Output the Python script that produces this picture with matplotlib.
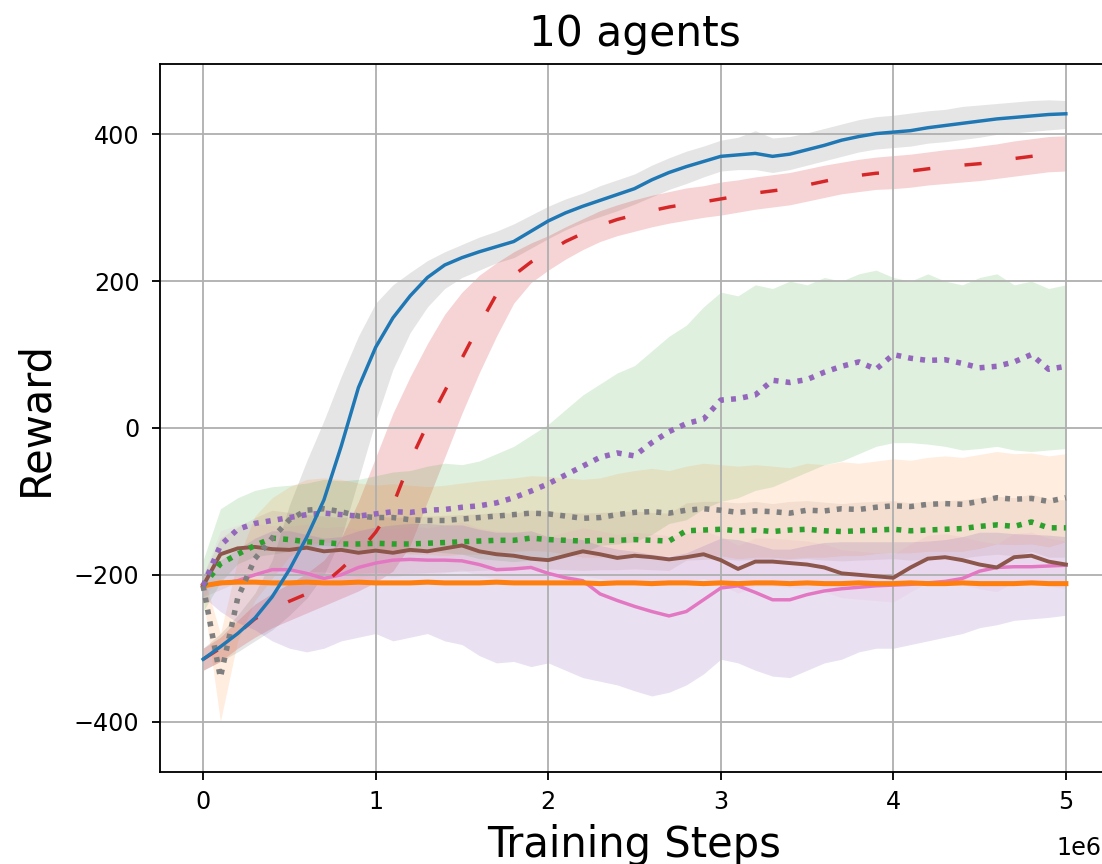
import numpy as np
import matplotlib
matplotlib.use("Agg")
import matplotlib.pyplot as plt

#--------------------
# Data (one sample every 0.1e6 steps)
STEPS = np.linspace(0, 5e6, 51)

blue_mean = [
    -315, -298, -280, -259, -230, -193, -149, -98, -25, 55,
    110, 150, 180, 205, 222, 232, 240, 247, 254, 268,
    282, 293, 302, 310, 318, 326, 338, 348, 356, 363,
    370, 372, 374, 370, 373, 379, 385, 392, 397, 401,
    403, 405, 409, 412, 415, 418, 421, 423, 425, 427,
    428]
blue_upper = [
    -300, -280, -255, -225, -180, -105, -45, 10, 70, 125,
    170, 195, 212, 228, 240, 250, 260, 268, 278, 290,
    302, 312, 320, 330, 338, 346, 358, 368, 377, 384,
    392, 396, 405, 395, 397, 402, 408, 414, 420, 424,
    426, 429, 432, 434, 438, 440, 442, 444, 446, 447,
    446]
blue_lower = [
    -330, -318, -305, -290, -275, -255, -232, -200, -150, -70,
    10, 80, 130, 165, 190, 205, 215, 225, 232, 245,
    258, 270, 280, 288, 296, 305, 315, 325, 333, 342,
    350, 352, 352, 348, 352, 358, 364, 370, 376, 380,
    382, 384, 388, 390, 393, 396, 400, 402, 404, 406,
    408]

red_mean = [
    -315, -300, -280, -260, -247, -236, -226, -212, -192, -170,
    -142, -105, -45, 5, 50, 95, 140, 182, 208, 226,
    240, 254, 265, 276, 284, 290, 296, 301, 305, 308,
    312, 316, 320, 323, 326, 331, 336, 341, 344, 347,
    348, 350, 353, 356, 358, 360, 363, 367, 370, 373,
    375]
red_upper = [
    -300, -285, -262, -240, -225, -212, -198, -180, -150, -100,
    -40, 20, 70, 115, 155, 185, 208, 225, 240, 252,
    262, 274, 285, 296, 304, 311, 317, 322, 327, 330,
    335, 338, 342, 345, 348, 353, 358, 362, 366, 369,
    371, 373, 376, 379, 381, 384, 387, 391, 394, 397,
    398]
red_lower = [
    -330, -318, -300, -285, -272, -262, -252, -242, -232, -222,
    -210, -195, -160, -100, -40, 20, 75, 125, 170, 198,
    215, 230, 243, 254, 262, 268, 274, 279, 283, 287,
    290, 294, 298, 301, 304, 309, 314, 319, 322, 325,
    326, 328, 331, 333, 335, 337, 340, 343, 346, 349,
    350]

purple_mean = [
    -215, -160, -138, -130, -126, -122, -118, -116, -118, -120,
    -117, -114, -115, -112, -111, -108, -106, -102, -95, -86,
    -76, -64, -52, -40, -34, -38, -20, -5, 6, 12,
    38, 40, 45, 65, 62, 66, 76, 84, 90, 80,
    100, 95, 92, 93, 88, 82, 84, 90, 100, 80,
    84]
purple_upper = [
    -180, -110, -95, -85, -80, -78, -75, -70, -72, -70,
    -65, -60, -58, -52, -48, -50, -45, -35, -25, -10,
    5, 25, 45, 60, 75, 85, 105, 125, 140, 165,
    185, 180, 195, 190, 200, 195, 205, 200, 210, 215,
    205, 200, 210, 200, 195, 205, 210, 195, 200, 190,
    195]
purple_lower = [
    -250, -210, -185, -175, -172, -168, -162, -160, -162, -168,
    -166, -165, -170, -168, -170, -172, -178, -180, -182, -180,
    -178, -175, -170, -160, -158, -155, -145, -130, -125, -110,
    -100, -95, -85, -80, -70, -60, -50, -45, -35, -25,
    -20, -20, -22, -25, -30, -28, -25, -30, -32, -30,
    -28]

gray_mean = [
    -215, -340, -232, -178, -150, -125, -112, -110, -114, -120,
    -122, -122, -125, -126, -126, -124, -122, -120, -118, -116,
    -117, -120, -123, -122, -118, -115, -114, -116, -112, -110,
    -112, -115, -113, -114, -116, -112, -113, -110, -111, -108,
    -106, -107, -104, -103, -104, -100, -95, -97, -96, -100,
    -95]
gray_upper = [
    -200, -280, -180, -120, -95, -80, -70, -68, -70, -75,
    -78, -76, -78, -80, -78, -75, -72, -70, -68, -65,
    -66, -68, -70, -68, -62, -58, -55, -58, -52, -48,
    -50, -52, -50, -52, -54, -48, -50, -46, -48, -45,
    -42, -44, -40, -38, -40, -36, -32, -35, -34, -38,
    -35]
gray_lower = [
    -230, -400, -290, -235, -205, -175, -160, -155, -158, -165,
    -166, -168, -172, -172, -174, -172, -172, -170, -168, -167,
    -168, -172, -176, -176, -174, -172, -173, -174, -172, -172,
    -174, -178, -176, -176, -178, -176, -176, -174, -174, -171,
    -170, -170, -168, -168, -168, -164, -158, -159, -158, -162,
    -155]

green_mean = [
    -215, -185, -172, -160, -150, -152, -155, -156, -158, -158,
    -157, -158, -158, -157, -156, -155, -154, -153, -153, -150,
    -152, -153, -154, -153, -153, -152, -153, -154, -140, -139,
    -138, -140, -139, -141, -139, -138, -140, -141, -140, -139,
    -138, -140, -139, -138, -137, -134, -132, -134, -128, -136,
    -136]
green_upper = [
    -200, -150, -135, -122, -112, -115, -118, -120, -122, -121,
    -120, -122, -121, -120, -119, -118, -117, -115, -116, -112,
    -114, -115, -116, -115, -114, -113, -115, -116, -102, -100,
    -100, -102, -100, -103, -100, -99, -101, -103, -101, -100,
    -99, -102, -100, -99, -98, -95, -93, -95, -90, -97,
    -98]
green_lower = [
    -230, -220, -210, -200, -190, -192, -195, -196, -198, -198,
    -197, -198, -198, -197, -196, -195, -194, -193, -193, -190,
    -192, -193, -194, -193, -193, -192, -193, -194, -180, -179,
    -178, -180, -179, -181, -179, -178, -180, -181, -180, -179,
    -178, -180, -179, -178, -177, -174, -172, -174, -168, -176,
    -176]

brown_mean = [
    -215, -172, -164, -162, -165, -166, -163, -168, -166, -170,
    -167, -170, -166, -168, -164, -160, -168, -172, -174, -178,
    -180, -174, -168, -172, -177, -174, -176, -179, -176, -172,
    -180, -192, -182, -182, -184, -186, -190, -198, -200, -202,
    -204, -190, -178, -176, -180, -186, -190, -176, -174, -182,
    -186]
brown_upper = [
    -200, -140, -132, -130, -133, -134, -131, -136, -134, -138,
    -135, -138, -134, -136, -132, -128, -136, -140, -142, -146,
    -148, -142, -136, -140, -145, -142, -144, -147, -144, -140,
    -148, -160, -150, -150, -152, -154, -158, -166, -168, -170,
    -172, -158, -146, -144, -148, -154, -158, -144, -142, -150,
    -154]
brown_lower = [
    -230, -205, -197, -195, -198, -199, -196, -201, -199, -203,
    -200, -203, -199, -201, -197, -193, -201, -205, -207, -211,
    -213, -207, -201, -205, -210, -207, -209, -212, -209, -205,
    -213, -225, -215, -215, -217, -219, -223, -231, -233, -235,
    -237, -223, -211, -209, -213, -219, -223, -209, -207, -215,
    -219]

pink_mean = [
    -215, -212, -208, -200, -193, -193, -198, -205, -200, -190,
    -184, -180, -179, -180, -180, -181, -186, -193, -192, -190,
    -198, -204, -208, -226, -235, -243, -250, -256, -250, -234,
    -218, -215, -224, -234, -234, -227, -222, -219, -217, -215,
    -214, -213, -211, -209, -205, -195, -190, -189, -189, -188,
    -187]
pink_upper = [
    -200, -180, -165, -150, -140, -140, -145, -150, -148, -140,
    -135, -132, -130, -130, -132, -132, -138, -142, -142, -140,
    -148, -150, -152, -160, -165, -168, -172, -175, -170, -160,
    -150, -152, -158, -165, -165, -160, -156, -155, -155, -155,
    -155, -155, -154, -152, -148, -142, -142, -144, -145, -146,
    -148]
pink_lower = [
    -230, -250, -265, -275, -290, -300, -305, -300, -290, -285,
    -280, -290, -285, -280, -290, -295, -310, -320, -318, -325,
    -320, -330, -340, -345, -350, -358, -365, -360, -350, -335,
    -315, -320, -330, -338, -340, -330, -320, -315, -305, -300,
    -300, -295, -290, -285, -280, -272, -268, -262, -260, -258,
    -255]

orange_mean = [
    -215, -211, -210, -210, -211, -211, -210, -211, -211, -210,
    -211, -211, -211, -210, -211, -211, -211, -210, -211, -211,
    -211, -211, -211, -212, -211, -211, -212, -211, -211, -212,
    -211, -212, -211, -211, -212, -211, -212, -212, -211, -212,
    -212, -211, -212, -212, -211, -212, -212, -212, -211, -212,
    -212]

DOTS = (0, (0.9, 1.3))


def main():
    fig = plt.figure(figsize=(1102 / 165, 864 / 165), dpi=165)
    # axes run slightly past the right edge, as in the cropped original
    ax = fig.add_axes([160 / 1102, 92 / 864, 949 / 1102, 708 / 864])

    # shaded spread bands
    ax.fill_between(STEPS, blue_lower, blue_upper, color="tab:gray", alpha=0.2, lw=0)
    ax.fill_between(STEPS, red_lower, red_upper, color="tab:red", alpha=0.2, lw=0)
    ax.fill_between(STEPS, purple_lower, purple_upper, color="tab:green", alpha=0.15, lw=0)
    ax.fill_between(STEPS, gray_lower, gray_upper, color="tab:orange", alpha=0.13, lw=0)
    ax.fill_between(STEPS, pink_lower, pink_upper, color="tab:purple", alpha=0.2, lw=0)
    ax.fill_between(STEPS, green_lower, green_upper, color="tab:brown", alpha=0.1, lw=0)
    ax.fill_between(STEPS, brown_lower, brown_upper, color="tab:pink", alpha=0.08, lw=0)

    # mean curves
    ax.plot(STEPS, pink_mean, color="tab:pink", lw=1.5)
    ax.plot(STEPS, orange_mean, color="tab:orange", lw=2.2)
    ax.plot(STEPS, brown_mean, color="tab:brown", lw=1.7)
    ax.plot(STEPS, green_mean, color="tab:green", lw=2.4, linestyle=DOTS)
    ax.plot(STEPS, gray_mean, color="tab:gray", lw=2.4, linestyle=DOTS)
    ax.plot(STEPS, purple_mean, color="tab:purple", lw=2.4, linestyle=DOTS)
    ax.plot(STEPS, red_mean, color="tab:red", lw=1.5, linestyle=(0, (5, 10)))
    ax.plot(STEPS, blue_mean, color="tab:blue", lw=1.5)

    ax.set_xlim(-0.25e6, 5.25e6)
    ax.set_ylim(-468.6, 495.8)
    ax.grid(True)
    ax.tick_params(labelsize=10.4)
    ax.tick_params(axis="y", pad=5.5)
    ax.tick_params(axis="x", pad=4.5)
    ax.set_title("10 agents", fontsize=18.5, pad=8)
    ax.set_xlabel("Training Steps", fontsize=18.2)
    ax.set_ylabel("Reward", fontsize=18.2, labelpad=7.5)

    # the offset label sits a bit lower than matplotlib puts it
    ax.xaxis.get_offset_text().set_visible(False)
    fig.text(1101 / 1102, 1 - 855 / 864, "1e6", fontsize=10.4,
             ha="right", va="baseline")

    fig.savefig("out.png", dpi=165)


if __name__ == "__main__":
    main()
